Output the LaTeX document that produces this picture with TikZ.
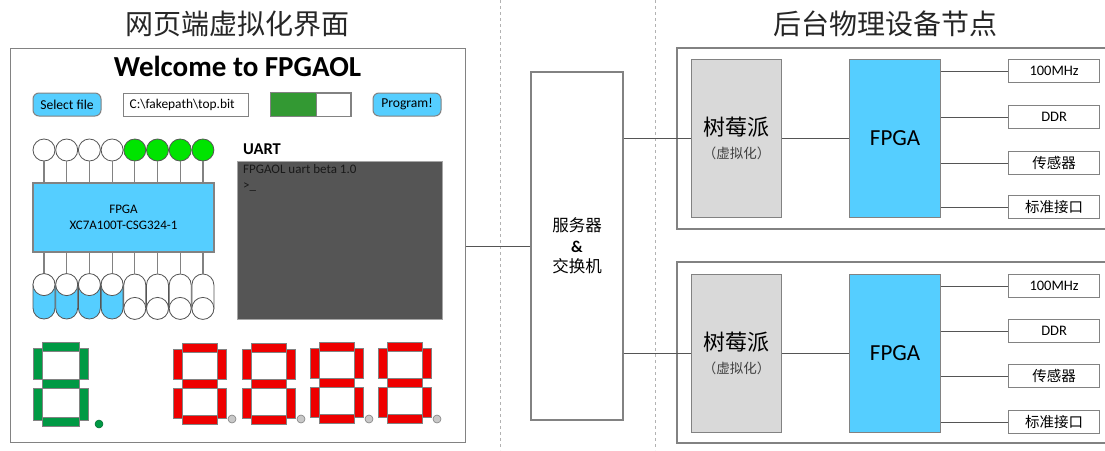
\documentclass[tikz,border=0pt]{standalone}
\usepackage{fontspec}
\setmainfont{Carlito}
\newfontfamily\cjk{Noto Sans CJK SC}
\usetikzlibrary{calc}
\definecolor{skyb}{RGB}{85,206,255}
\definecolor{ledgreen}{RGB}{0,228,0}
\definecolor{bargreen}{RGB}{51,153,51}
\definecolor{seggreen}{RGB}{0,153,68}
\definecolor{segred}{RGB}{238,0,0}
\definecolor{bordergray}{RGB}{130,130,130}
\definecolor{conngray}{RGB}{85,85,85}
\definecolor{pigray}{RGB}{217,217,217}
\definecolor{termgray}{RGB}{85,85,85}
\definecolor{dotgray}{RGB}{200,200,200}
\newcommand\sevdigit[5]{%
  \begin{scope}[shift={(#1,#2)}]
    \pgfmathsetmacro\dW{#3}\pgfmathsetmacro\dH{#4}\pgfmathsetmacro\dT{9}\pgfmathsetmacro\dM{#4/2}
    \path[segsty,fill=#5] (\dT,0) rectangle (\dW-\dT,\dT);
    \path[segsty,fill=#5] (0,\dT-3) rectangle (\dT,\dM-\dT/2);
    \path[segsty,fill=#5] (\dW-\dT,\dT-3) rectangle (\dW,\dM-\dT/2);
    \path[segsty,fill=#5] (\dT,\dM-\dT/2) rectangle (\dW-\dT,\dM+\dT/2);
    \path[segsty,fill=#5] (0,\dM+\dT/2) rectangle (\dT,\dH-\dT+3);
    \path[segsty,fill=#5] (\dW-\dT,\dM+\dT/2) rectangle (\dW,\dH-\dT+3);
    \path[segsty,fill=#5] (\dT,\dH-\dT) rectangle (\dW-\dT,\dH);
  \end{scope}}
\begin{document}
\begin{tikzpicture}[x=1pt,y=-1pt,
  frame/.style={draw=bordergray,line width=1.2pt},
  conn/.style={draw=conngray,line width=1pt},
  stem/.style={draw=bordergray,line width=1.2pt},
  btn/.style={draw=bordergray,line width=1pt,fill=skyb,rounded corners=6pt,minimum width=68pt,minimum height=23pt,inner sep=0pt,font=\fontsize{13.6}{15}\selectfont},
  field/.style={draw=bordergray,line width=1pt,fill=white,minimum height=23pt,inner sep=0pt},
  led/.style={circle,draw=conngray,line width=0.8pt,minimum size=22pt,inner sep=0pt},
  swtch/.style={draw=conngray,line width=0.8pt,rounded corners=11pt,minimum width=22pt,minimum height=45pt,inner sep=0pt},
  knob/.style={circle,draw=conngray,line width=0.8pt,fill=white,minimum size=22pt,inner sep=0pt},
  segsty/.style={draw=bordergray,line width=0.7pt},
  pibox/.style={draw=bordergray,line width=1.2pt,fill=pigray,minimum width=90pt,minimum height=158pt,inner sep=0pt,align=center},
  fpgabox/.style={draw=bordergray,line width=1.2pt,fill=skyb,minimum width=91pt,minimum height=158pt,inner sep=0pt,font=\fontsize{23}{26}\selectfont},
  pbox/.style={draw=bordergray,line width=1.2pt,fill=white,minimum width=91pt,minimum height=23pt,inner sep=0pt},
  divider/.style={draw=gray!60,dashed,line width=0.8pt}
]
\useasboundingbox (0,0) rectangle (1105,450);
\clip (0,0) rectangle (1105,450);
\fill[white] (0,0) rectangle (1105,450);

% titles
\node[font=\cjk\fontsize{28}{32}\selectfont,text=black!85] (titleL) at (237,24) {网页端虚拟化界面};
\node[font=\cjk\fontsize{28}{32}\selectfont,text=black!85] (titleR) at (885,24) {后台物理设备节点};

% dividers
\coordinate (d1a) at (500.5,0); \coordinate (d1b) at (500.5,450);
\coordinate (d2a) at (655.5,0); \coordinate (d2b) at (655.5,450);
\draw[divider] (d1a) -- (d1b);
\draw[divider] (d2a) -- (d2b);

% ---------------- left panel
\node[frame,fill=white,minimum width=455pt,minimum height=394pt,anchor=north west,inner sep=0pt] (panel) at (10,48) {};
\node[font=\bfseries\fontsize{29}{34}\selectfont] (welcome) at (237.5,66) {Welcome to FPGAOL};
\node[btn] (selfile) at (67,104.5) {Select file};
\node[field,minimum width=125pt,anchor=west] (path) at (123,104.5) {};
\node[anchor=west,inner sep=0pt,font=\fontsize{13.4}{15}\selectfont] (pathtxt) at (129.5,104.5) {C:\textbackslash fakepath\textbackslash top.bit};
\node[field,minimum width=80pt,anchor=west] (bar) at (270,104.5) {};
\fill[bargreen] (bar.north west) rectangle ($(bar.south west)+(46,0)$);
\draw[draw=bordergray,line width=1pt] (bar.north west) rectangle (bar.south east);
\draw[draw=bordergray,line width=1pt] ($(bar.north west)+(46,0)$) -- ($(bar.south west)+(46,0)$);
\node[btn] (prog) at (407,104.5) {Program!};

% FPGA chip
\node[draw=bordergray,line width=1.2pt,fill=skyb,minimum width=181pt,minimum height=69pt,inner sep=0pt,align=center,font=\fontsize{13}{16}\selectfont] (chip) at (123.5,217.5) {FPGA\\XC7A100T-CSG324-1};

\foreach \i in {1,...,8}{
  \pgfmathsetmacro\xx{44+22.7*(\i-1)}
  \ifnum\i>4 \def\ledc{ledgreen}\else\def\ledc{white}\fi
  \node[led,fill=\ledc] (led\i) at (\xx,150) {};
  \draw[stem] (led\i.south) -- (led\i.south |- chip.north);
  \ifnum\i>4 \def\swc{white}\else\def\swc{skyb}\fi
  \node[swtch,fill=\swc] (sw\i) at (\xx,296.5) {};
  \draw[stem] (sw\i.north) -- (sw\i.north |- chip.south);
  \ifnum\i>4
    \node[knob] (kn\i) at ($(sw\i.south)+(0,-11)$) {};
  \else
    \node[knob] (kn\i) at ($(sw\i.north)+(0,11)$) {};
  \fi
}

% UART
\node[font=\bfseries\fontsize{16.5}{19}\selectfont,anchor=west,inner sep=0pt] (uartlbl) at (243,149) {UART};
\node[draw=gray!70,line width=0.8pt,fill=termgray,minimum width=205pt,minimum height=158pt,anchor=north west,inner sep=0pt] (term) at (237,161) {};
\node[anchor=north west,inner sep=0pt,align=left,font=\fontsize{13}{16}\selectfont,text=black!90] (termtxt) at (243,164.5) {FPGAOL uart beta 1.0\\>\_};

% seven segment
\sevdigit{33}{342}{55}{84}{seggreen}
\node[circle,fill=seggreen,draw=seggreen!70!black,line width=0.5pt,minimum size=8pt,inner sep=0pt] (gdot) at (99,424) {};
\sevdigit{173}{343}{53}{81}{segred}
\sevdigit{242}{343}{53}{81}{segred}
\sevdigit{310}{342}{53}{81}{segred}
\sevdigit{378}{342}{53}{81}{segred}
\foreach \x/\n in {232/1,301/2,369/3,437/4}{
  \node[circle,fill=dotgray,draw=gray,line width=0.6pt,minimum size=8pt,inner sep=0pt] (rdot\n) at (\x,419) {};
}

% ---------------- server
\node[draw=bordergray,line width=1.2pt,fill=white,minimum width=92pt,minimum height=348pt,inner sep=0pt,align=center,font=\fontsize{16.5}{20.5}\selectfont] (server) at (577,246) {{\cjk 服务器}\\{\bfseries\&}\\{\cjk 交换机}};
\draw[conn] (panel.east |- server.west) -- (server.west);

% ---------------- nodes
\foreach \k/\top/\pt/\pa/\pb/\pc/\pd in {a/48/59/59/105/151/195, b/262/274/274/319/364/410}{
  \draw[frame] (677,\top) rectangle (1120,\top+181);
  \node[pibox,anchor=north west] (pi\k) at (691,\pt) {{\cjk\fontsize{22}{26}\selectfont 树莓派}\\[9pt]{\cjk\fontsize{13.5}{16}\selectfont\color{black!75}（虚拟化）}};
  \node[fpgabox,anchor=north west] (fp\k) at (849,\pt) {FPGA};
  \node[pbox,anchor=north west,font=\fontsize{14.5}{16}\selectfont] (p1\k) at (1008,\pa) {100MHz};
  \node[pbox,anchor=north west,font=\fontsize{14.5}{16}\selectfont] (p2\k) at (1008,\pb) {DDR};
  \node[pbox,anchor=north west,font=\cjk\fontsize{14.5}{16}\selectfont] (p3\k) at (1008,\pc) {传感器};
  \node[pbox,anchor=north west,font=\cjk\fontsize{14.5}{16}\selectfont] (p4\k) at (1008,\pd) {标准接口};
  \draw[conn] (server.east |- pi\k.west) -- (pi\k.west);
  \draw[conn] (pi\k.east) -- (fp\k.west);
  \foreach \j in {1,...,4}{
    \draw[conn] (p\j\k.west -| fp\k.east) -- (p\j\k.west);
  }
}
\end{tikzpicture}
\end{document}
